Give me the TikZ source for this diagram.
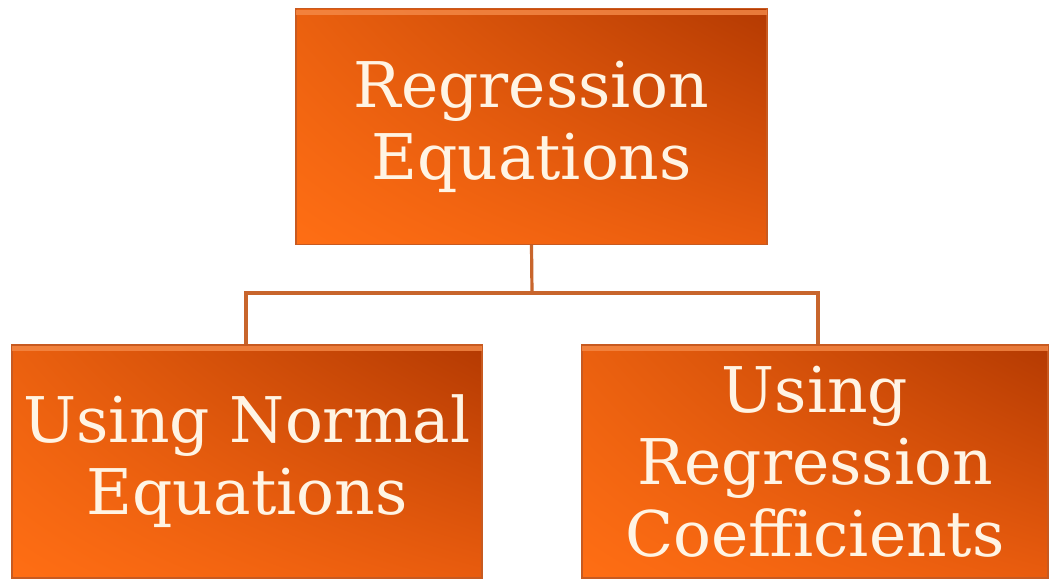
\documentclass[tikz,border=0pt]{standalone}
\usepackage{fontspec}
\usetikzlibrary{shadings}
\setmainfont{DejaVu Serif}
\definecolor{boxLL}{HTML}{FF6E14}
\definecolor{boxLR}{HTML}{E95C0E}
\definecolor{boxUL}{HTML}{EA600F}
\definecolor{boxUR}{HTML}{B43A02}
\definecolor{boxEdge}{HTML}{C85A20}
\definecolor{boxHi}{HTML}{F58A48}
\definecolor{connCol}{HTML}{C8652C}
\definecolor{txtCol}{HTML}{FFF4E4}
\begin{document}
\begin{tikzpicture}[x=1pt,y=-1pt,
  orangebox/.style={rectangle, draw=boxEdge, line width=1.2pt, inner sep=0pt,
    shade, lower left=boxLL, lower right=boxLR, upper left=boxUL, upper right=boxUR,
    text=txtCol, align=center,
    font=\fontsize{63}{72}\selectfont},
  conn/.style={draw=connCol, line width=3.2pt},
  hilite/.style={fill=boxHi, opacity=0.8}]
\useasboundingbox (0,0) rectangle (1050,580);
\fill[white] (0,0) rectangle (1050,580);

\node[orangebox, minimum width=471pt, minimum height=236pt] (top) at (531.5,126.5)
  {Regression\\Equations};
\node[orangebox, minimum width=470pt, minimum height=233pt] (left) at (247,461.5)
  {Using Normal\\Equations};
\node[orangebox, minimum width=466pt, minimum height=233pt] (right) at (815,461.5)
  {Using\\Regression\\Coefficients};

\foreach \b in {top,left,right}{
  \fill[hilite] ([xshift=1pt,yshift=-2pt]\b.north west) rectangle ([xshift=-1pt,yshift=-7pt]\b.north east);
}

\coordinate (bus) at (532,293);
\draw[conn] (top.south) -- (bus);
\draw[conn] ([xshift=-1pt]left.north) |- (bus) -| ([xshift=3pt]right.north);
\end{tikzpicture}
\end{document}
